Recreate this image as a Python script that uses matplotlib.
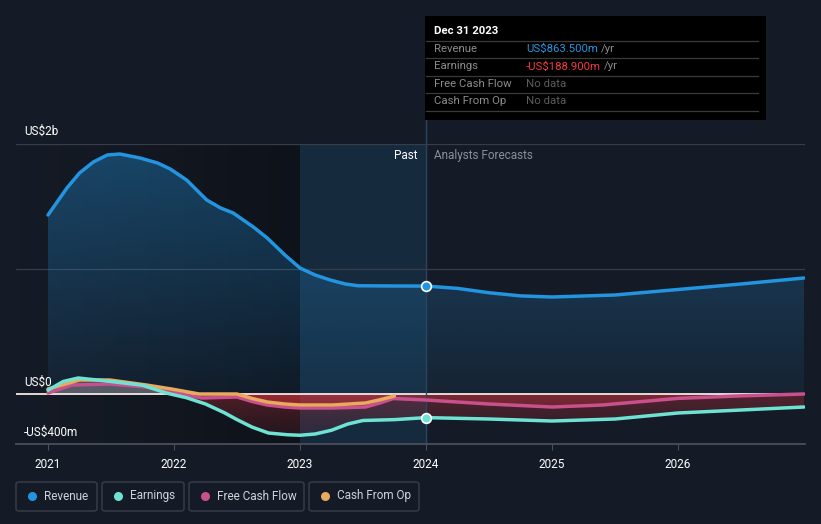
import numpy as np
import matplotlib.pyplot as plt
from matplotlib.colors import to_rgb
from matplotlib.patches import Rectangle, FancyBboxPatch
from matplotlib.lines import Line2D

plt.rcParams['font.family'] = ['Roboto', 'DejaVu Sans']

# values in US$ millions, x in decimal years
rev_x = [2021.0, 2021.15, 2021.25, 2021.36, 2021.47, 2021.57, 2021.73, 2021.87, 2021.97, 2022.1,
         2022.26, 2022.37, 2022.47, 2022.63, 2022.74, 2022.88, 2023.0, 2023.12, 2023.24, 2023.36,
         2023.46, 2023.75, 2024.0, 2024.25, 2024.5, 2024.75, 2025.0, 2025.5, 2026.0, 2026.5, 2027.0]
rev_m = [1432, 1648, 1768, 1856, 1912, 1920, 1888, 1848, 1800, 1712,
         1552, 1488, 1448, 1336, 1248, 1112, 1008, 952, 912, 880,
         866, 864, 863.5, 845, 810, 785, 776, 792, 836, 880, 928]

earn_x = [2021.0, 2021.12, 2021.24, 2021.5, 2021.75, 2021.95, 2022.1, 2022.25, 2022.4, 2022.5,
          2022.62, 2022.75, 2022.9, 2023.0, 2023.12, 2023.25, 2023.38, 2023.5, 2023.75, 2024.0,
          2024.5, 2025.0, 2025.5, 2026.0, 2026.5, 2027.0]
earn_m = [30, 100, 128, 100, 70, 5, -30, -80, -150, -205,
          -265, -312, -326, -330, -320, -290, -240, -212, -205, -188.9,
          -200, -216, -200, -152, -128, -104]

fcf_x = [2021.0, 2021.19, 2021.49, 2021.78, 2021.98, 2022.22, 2022.5, 2022.62, 2022.74, 2022.88,
         2023.0, 2023.26, 2023.52, 2023.64, 2023.74, 2024.0, 2024.5, 2025.0, 2025.4, 2026.0,
         2026.5, 2027.0]
fcf_m = [8, 72, 80, 56, 16, -32, -24, -60, -88, -104,
         -112, -112, -104, -70, -36, -48, -80, -104, -88, -35,
         -15, 0]

cfo_x = [2021.0, 2021.25, 2021.49, 2021.78, 2021.98, 2022.2, 2022.5, 2022.62, 2022.74, 2022.88,
         2023.0, 2023.26, 2023.52, 2023.64, 2023.75]
cfo_m = [40, 112, 112, 72, 40, 0, 0, -36, -64, -80, -88, -88, -72, -45, -16]

year_ticks = [2021, 2022, 2023, 2024, 2025, 2026]

BG = '#151b26'
C_REV = '#2394df'
C_EARN = '#6ee3d3'
C_FCF = '#c8508c'
C_CFO = '#e8aa5c'

W, H = 821, 524
fig = plt.figure(figsize=(W / 100, H / 100), dpi=100, facecolor=BG)
ax = fig.add_axes([16 / W, 80 / H, 789 / W, 300 / H])
ax.set_facecolor(BG)
x0 = 2021 - 32 / 126
x1 = 2021 + 757 / 126


def fx(px):
    return px / W


def fy(py):
    return 1 - py / H


def grad_fill(x, y, base, color, a_top, a_bot, y_top, y_bot, z):
    poly = ax.fill_between(x, y, base, color='none', lw=0)
    n = 256
    img = np.zeros((n, 1, 4))
    img[..., :3] = to_rgb(color)
    img[..., 3] = np.linspace(a_top, a_bot, n)[:, None]
    im = ax.imshow(img, extent=[x0, x1, y_bot, y_top], aspect='auto',
                   origin='upper', zorder=z, interpolation='bilinear')
    im.set_clip_path(poly.get_paths()[0], transform=ax.transData)


# past shading (darker towards the present) and highlighted year
n = 256
img = np.zeros((1, n, 4))
img[..., 3] = np.linspace(0.0, 0.32, n)[None, :]
ax.imshow(img, extent=[x0, 2023, -400, 2000], aspect='auto', zorder=0.5,
          interpolation='bilinear')
ax.axvspan(2023, 2024, color=C_REV, alpha=0.13, lw=0, zorder=0.6)

# revenue area
grad_fill(rev_x, rev_m, 0, C_REV, 0.38, 0.07, 2000, 0, 1)

# negative / positive areas of the other series
for xs, ys in [(earn_x, earn_m), (fcf_x, fcf_m), (cfo_x, cfo_m)]:
    ys = np.array(ys, dtype=float)
    grad_fill(xs, np.minimum(ys, 0), 0, '#e0353f', 0.3, 0.06, 0, -400, 1.2)
    ax.fill_between(xs, np.maximum(ys, 0), 0, color='#e8dde0', alpha=0.12, lw=0, zorder=1.2)

# grid
for v in [2000, 1000]:
    ax.axhline(v, color='#363c48', lw=0.9, zorder=0.8)
ax.axhline(0, color='#f4e6e6', lw=1.3, zorder=2)

kw = dict(lw=2.5, solid_capstyle='round', solid_joinstyle='round', zorder=3)
ax.plot(rev_x, rev_m, color=C_REV, **kw)
ax.plot(fcf_x, fcf_m, color=C_FCF, **kw)
ax.plot(cfo_x, cfo_m, color=C_CFO, **kw)
ax.plot(earn_x, earn_m, color=C_EARN, **kw)

# hover line and markers
ax.plot([2024, 2024], [-400, (394 - 120) * 8], color='#2b4560', lw=1, zorder=2.5, clip_on=False)
ax.plot([2024], [rev_m[rev_x.index(2024.0)]], 'o', ms=7, mfc=C_REV, mec='white', mew=1.2, zorder=4)
ax.plot([2024], [earn_m[earn_x.index(2024.0)]], 'o', ms=7, mfc=C_EARN, mec='white', mew=1.2, zorder=4)

ax.set_xlim(x0, x1)
ax.set_ylim(-400, 2000)
for s in ['top', 'right', 'left']:
    ax.spines[s].set_visible(False)
ax.spines['bottom'].set_color('#4a4f5a')
ax.spines['bottom'].set_linewidth(1.3)
ax.set_yticks([])
ax.set_xticks(year_ticks)
ax.set_xticklabels([str(y) for y in year_ticks])
ax.tick_params(axis='x', length=4, color='#4a4f5a', labelcolor='white', labelsize=8.5, pad=6)

# y labels
fig.text(fx(24), fy(131), 'US$2b', color='white', fontsize=8.5, va='center')
fig.text(fx(24), fy(382), 'US$0', color='white', fontsize=8.5, va='center')
fig.text(fx(24), fy(432), '-US$400m', color='white', fontsize=8.5, va='center')

fig.text(fx(417), fy(156), 'Past', color='white', fontsize=8.5, va='center', ha='right')
fig.text(fx(434), fy(156), 'Analysts Forecasts', color='#8a8f99', fontsize=8.5, va='center')

# tooltip
fig.patches.append(Rectangle((fx(425), fy(120)), fx(341), 104 / H, transform=fig.transFigure,
                             facecolor='black', edgecolor='none', zorder=5))
for py in [41, 58, 76, 93, 111]:
    fig.lines.append(Line2D([fx(426), fx(758)], [fy(py), fy(py)], transform=fig.transFigure,
                            color='#3a3a3a', lw=0.9, zorder=6))
fig.text(fx(434), fy(31), 'Dec 31 2023', color='white', fontsize=8.2, fontweight='bold',
         va='center', zorder=7)
rows = [('Revenue', 'US$863.500m', C_REV, True),
        ('Earnings', '-US$188.900m', '#f03a3e', True),
        ('Free Cash Flow', 'No data', '#5c5c5c', False),
        ('Cash From Op', 'No data', '#5c5c5c', False)]
renderer = fig.canvas.get_renderer()
for i, (lab, val, col, yr) in enumerate(rows):
    py = 49 + i * 17.4
    fig.text(fx(434), fy(py), lab, color='#8c8c8c', fontsize=8.2, va='center', zorder=7)
    t = fig.text(fx(526), fy(py), val, color=col, fontsize=8.2, va='center', zorder=7)
    if yr:
        bb = t.get_window_extent(renderer)
        fig.text(bb.x1 / W + 3 / W, fy(py), '/yr', color='#8c8c8c', fontsize=8.2,
                 va='center', zorder=7)

# legend
legend = [('Revenue', C_REV, 16, 97), ('Earnings', C_EARN, 102, 184),
          ('Free Cash Flow', C_FCF, 189, 304), ('Cash From Op', C_CFO, 309, 419)]
for lab, col, l, r in legend:
    fig.patches.append(FancyBboxPatch((fx(l), fy(511)), (r - l) / W, 29 / H,
                                      boxstyle='round,pad=0,rounding_size=0.004',
                                      transform=fig.transFigure, facecolor='none',
                                      edgecolor='#3a3f4a', lw=1))
    fig.lines.append(Line2D([fx(l + 16)], [fy(496)], transform=fig.transFigure, marker='o',
                            ms=6.5, mfc=col, mec='none', ls='none'))
    fig.text(fx(l + 28), fy(496), lab, color='#cfd3da', fontsize=8.5, va='center')

fig.savefig('out.png', dpi=100, facecolor=BG)
